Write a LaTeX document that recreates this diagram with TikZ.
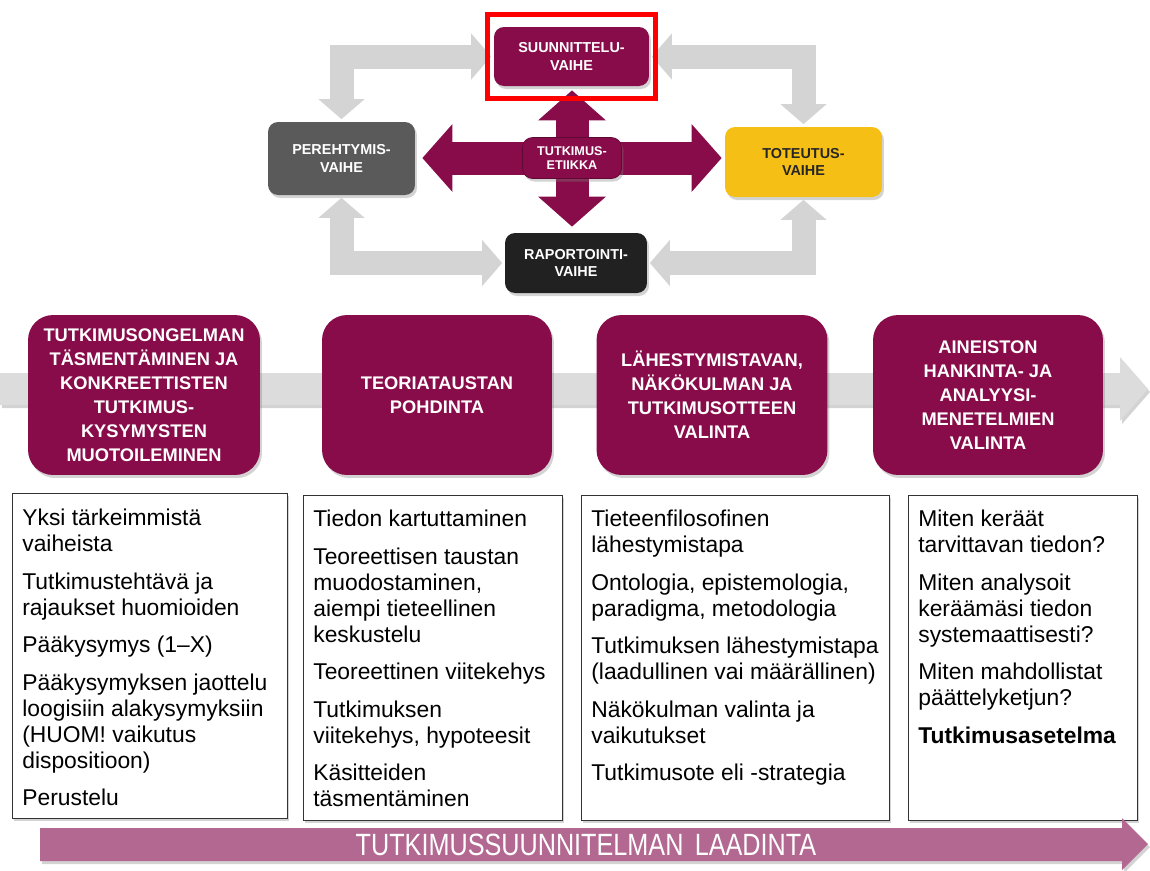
\documentclass[tikz,border=0pt]{standalone}
\usepackage{fontspec}
\usepackage{graphicx}
\setmainfont{Liberation Sans}
\usetikzlibrary{positioning,arrows.meta,shadows,fit}
\definecolor{stageRed}{RGB}{137,12,74}
\definecolor{stageGrey}{RGB}{90,90,90}
\definecolor{stageGold}{RGB}{246,191,22}
\definecolor{stageBlack}{RGB}{33,33,33}
\definecolor{cycleGrey}{RGB}{212,212,212}
\definecolor{bandGrey}{RGB}{220,220,220}
\definecolor{planMauve}{RGB}{178,104,144}
\tikzstyle{plan} = [x = .02cm, y = -.02cm]
\tikzstyle{boxShadow} = [drop shadow = {opacity = .35, shadow xshift = .04cm, shadow yshift = -.06cm}]
\tikzstyle{phaseBox} = [rounded corners = .2cm, text = white, align = center, boxShadow, font = \fontsize{8.2}{10.2}\selectfont\bfseries]
\tikzstyle{cycleArrow} = [draw = cycleGrey, line width = .48cm, {Triangle[width = .9cm, length = .4cm]}-{Triangle[width = .9cm, length = .4cm]}, shorten <= .05cm, shorten >= .05cm]
\tikzstyle{ethicsArrow} = [draw = stageRed, line width = .66cm, -{Triangle[width = 1.32cm, length = .6cm]}]
\tikzstyle{stageBox} = [fill = stageRed, rounded corners = .5cm, text = white, align = center, minimum height = 3.2cm, boxShadow, font = \fontsize{10.4}{13.6}\selectfont\bfseries]
\tikzstyle{infoBox} = [draw = black!80, fill = white, anchor = north west, minimum height = 6.5cm, boxShadow]
\tikzstyle{infoText} = [anchor = north west, align = left, inner sep = 0pt, font = \fontsize{13}{14.8}\selectfont]
\tikzstyle{planText} = [text = white, font = \fontsize{17.5}{19}\selectfont]

\begin{document}
\begin{tikzpicture}[plan]
  \useasboundingbox (0,0) rectangle (1150,870);

  \node[phaseBox, fill = stageRed, minimum width = 3.1cm, minimum height = 1.18cm] (suunnittelu) at (571.5,56.5) {SUUNNITTELU-\\VAIHE};
  \node[phaseBox, fill = stageGrey, minimum width = 2.94cm, minimum height = 1.46cm] (perehtymis) at (341.5,158.5) {PEREHTYMIS-\\VAIHE};
  \node[phaseBox, fill = stageGold, text = black!85, minimum width = 3.14cm, minimum height = 1.4cm] (toteutus) at (803.5,162) {TOTEUTUS-\\VAIHE};
  \node[phaseBox, fill = stageBlack, minimum width = 2.84cm, minimum height = 1.2cm] (raportointi) at (576,263) {RAPORTOINTI-\\VAIHE};

  \draw[cycleArrow] (perehtymis.north) |- (suunnittelu.west);
  \draw[cycleArrow] (suunnittelu.east) -| (toteutus.north);
  \draw[cycleArrow] (perehtymis.south) |- (raportointi.west);
  \draw[cycleArrow] (raportointi.east) -| (toteutus.south);

  \coordinate (ethicsCentre) at (572,158);
  \draw[ethicsArrow, shorten >= .14cm] (ethicsCentre) -- (ethicsCentre -| perehtymis.east);
  \draw[ethicsArrow, shorten >= .06cm] (ethicsCentre) -- (ethicsCentre -| toteutus.west);
  \draw[ethicsArrow, shorten >= .08cm] (ethicsCentre) -- (ethicsCentre |- suunnittelu.south);
  \draw[ethicsArrow, shorten >= .12cm] (ethicsCentre) -- (ethicsCentre |- raportointi.north);
  \node[phaseBox, fill = stageRed, draw = stageRed!70!black, minimum width = 1.98cm, minimum height = .82cm, font = \fontsize{7.2}{8.2}\selectfont\bfseries] (etiikka) at (ethicsCentre) {TUTKIMUS-\\ETIIKKA};

  \node[draw = red, line width = .1cm, inner xsep = .12cm, inner ysep = .24cm, fit = (suunnittelu)] (highlight) {};

  \fill[bandGrey, boxShadow] (0,373) -- (1120,373) -- (1120,357) -- (1148,389) -- (1120,421) -- (1120,405) -- (0,405) -- cycle;

  \node[stageBox, minimum width = 4.64cm] (ongelma) at (144,395) {TUTKIMUSONGELMAN\\TÄSMENTÄMINEN JA\\KONKREETTISTEN\\TUTKIMUS-\\KYSYMYSTEN\\MUOTOILEMINEN};
  \node[stageBox, minimum width = 4.6cm] (teoria) at (437,395) {TEORIATAUSTAN\\POHDINTA};
  \node[stageBox, minimum width = 4.62cm] (lahestymis) at (712,395) {LÄHESTYMISTAVAN,\\NÄKÖKULMAN JA\\TUTKIMUSOTTEEN\\VALINTA};
  \node[stageBox, minimum width = 4.6cm] (aineisto) at (988,395) {AINEISTON\\HANKINTA- JA\\ANALYYSI-\\MENETELMIEN\\VALINTA};

  \node[infoBox, minimum width = 5.5cm] (info1) at (12,493) {};
  \node[infoText] (info1Text) at ([shift = {(.2cm,-.32cm)}]info1.north west) {Yksi tärkeimmistä\\vaiheista\\[6.5pt]Tutkimustehtävä ja\\rajaukset huomioiden\\[6.5pt]Pääkysymys (1–X)\\[6.5pt]Pääkysymyksen jaottelu\\loogisiin alakysymyksiin\\(HUOM! vaikutus\\dispositioon)\\[6.5pt]Perustelu};

  \node[infoBox, minimum width = 5.18cm] (info2) at (303,495) {};
  \node[infoText] (info2Text) at ([shift = {(.2cm,-.3cm)}]info2.north west) {Tiedon kartuttaminen\\[6.5pt]Teoreettisen taustan\\muodostaminen,\\aiempi tieteellinen\\keskustelu\\[6.5pt]Teoreettinen viitekehys\\[6.5pt]Tutkimuksen\\viitekehys, hypoteesit\\[6.5pt]Käsitteiden\\täsmentäminen};

  \node[infoBox, minimum width = 6.16cm] (info3) at (581,495) {};
  \node[infoText] (info3Text) at ([shift = {(.2cm,-.3cm)}]info3.north west) {Tieteenfilosofinen\\lähestymistapa\\[6.5pt]Ontologia, epistemologia,\\paradigma, metodologia\\[6.5pt]Tutkimuksen lähestymistapa\\(laadullinen vai määrällinen)\\[6.5pt]Näkökulman valinta ja\\vaikutukset\\[6.5pt]Tutkimusote eli -strategia};

  \node[infoBox, minimum width = 4.58cm] (info4) at (908,495) {};
  \node[infoText] (info4Text) at ([shift = {(.2cm,-.3cm)}]info4.north west) {Miten keräät\\tarvittavan tiedon?\\[6.5pt]Miten analysoit\\keräämäsi tiedon\\systemaattisesti?\\[6.5pt]Miten mahdollistat\\päättelyketjun?\\[6.5pt]\textbf{Tutkimusasetelma}};

  \fill[planMauve, boxShadow] (40,828) -- (1122,828) -- (1122,818) -- (1148,844) -- (1122,870) -- (1122,861) -- (40,861) -- cycle;
  \node[planText] (laadinta) at (586,845) {\scalebox{.82}[1]{TUTKIMUSSUUNNITELMAN\hspace{.45em}LAADINTA}};
\end{tikzpicture}
\end{document}
